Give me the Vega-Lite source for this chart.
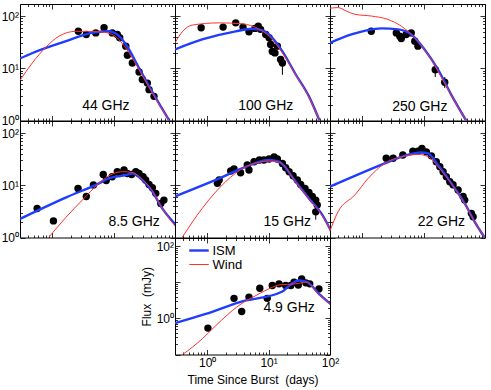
{
"$schema": "https://vega.github.io/schema/vega-lite/v6.json",
"padding": {"left": 0, "top": 3, "right": 5, "bottom": 2},
"background": "white",
"columns": 3,
"spacing": 0,
"bounds": "flush",
"align": "all",
"datasets": {
"pts": [
{"p":"44","t":2.67,"f":51},{"p":"44","t":3.6,"f":44.4},{"p":"44","t":5.13,"f":47.6},{"p":"44","t":7.0,"f":59.6},{"p":"44","t":9.53,"f":47.6},{"p":"44","t":11.5,"f":44.4},{"p":"44","t":12.6,"f":38.3},{"p":"44","t":15.8,"f":26.5},{"p":"44","t":16.8,"f":17.8},{"p":"44","t":20.2,"f":12.6},{"p":"44","t":26,"f":8.5},{"p":"44","t":29.4,"f":6.1},{"p":"44","t":35.5,"f":5.2},{"p":"44","t":37.8,"f":3.9},{"p":"44","t":45.5,"f":2.9},
{"p":"100","t":0.8,"f":59.6},{"p":"100","t":1.82,"f":61.4},{"p":"100","t":2.92,"f":74},{"p":"100","t":3.84,"f":61.4},{"p":"100","t":4.8,"f":50},{"p":"100","t":6.0,"f":58},{"p":"100","t":6.8,"f":64},{"p":"100","t":7.4,"f":55.6},{"p":"100","t":9.0,"f":44.4},{"p":"100","t":10.2,"f":38.3},{"p":"100","t":10.8,"f":28.5},{"p":"100","t":11.5,"f":21},{"p":"100","t":12.7,"f":19.7},{"p":"100","t":13.9,"f":26.5},{"p":"100","t":15.7,"f":14.7},{"p":"100","t":16.8,"f":12.6,"lo":7.5,"hi":16},
{"p":"250","t":1.41,"f":51},{"p":"250","t":3.6,"f":47.6},{"p":"250","t":4.1,"f":41},{"p":"250","t":4.34,"f":37.2},{"p":"250","t":5.2,"f":44.4},{"p":"250","t":6.3,"f":47.6},{"p":"250","t":7.2,"f":33},{"p":"250","t":8.1,"f":26.5},{"p":"250","t":15.5,"f":9.4,"lo":6.8,"hi":12},{"p":"250","t":22.1,"f":5.4,"lo":4.2,"hi":6.8},
{"p":"8.5","t":0.57,"f":3.6},{"p":"8.5","t":1.05,"f":2.08},{"p":"8.5","t":2.64,"f":8.7},{"p":"8.5","t":3.6,"f":6.1},{"p":"8.5","t":4.7,"f":10.1},{"p":"8.5","t":6.8,"f":16.1},{"p":"8.5","t":7.6,"f":12.3},{"p":"8.5","t":9.5,"f":14.6},{"p":"8.5","t":11.5,"f":18.2},{"p":"8.5","t":12.6,"f":16.8},{"p":"8.5","t":14.8,"f":19.6},{"p":"8.5","t":16.8,"f":16.8},{"p":"8.5","t":19.7,"f":16.1},{"p":"8.5","t":23,"f":18.2},{"p":"8.5","t":26,"f":16.8},{"p":"8.5","t":30.2,"f":14.6},{"p":"8.5","t":33.3,"f":12.6},{"p":"8.5","t":37.8,"f":10.4},{"p":"8.5","t":42.8,"f":9.0},{"p":"8.5","t":48.6,"f":7.0},{"p":"8.5","t":58.7,"f":4.5},{"p":"8.5","t":66,"f":5.2},
{"p":"15","t":1.47,"f":10.9},{"p":"15","t":1.57,"f":12.6},{"p":"15","t":2.42,"f":18.7},{"p":"15","t":2.74,"f":20.5},{"p":"15","t":3.5,"f":17.4},{"p":"15","t":4.8,"f":19.6},{"p":"15","t":4.5,"f":24.4},{"p":"15","t":5.8,"f":28.2},{"p":"15","t":7.1,"f":30.5},{"p":"15","t":8.4,"f":30.5},{"p":"15","t":10.2,"f":31.8},{"p":"15","t":12.3,"f":35},{"p":"15","t":13.9,"f":31.8},{"p":"15","t":16.8,"f":26.2},{"p":"15","t":19,"f":21.7},{"p":"15","t":21.6,"f":18.2},{"p":"15","t":25.1,"f":15.2},{"p":"15","t":29.4,"f":12.6},{"p":"15","t":33.3,"f":10.4},{"p":"15","t":39.2,"f":8.7},{"p":"15","t":45.4,"f":7.3},{"p":"15","t":51.5,"f":6.1},{"p":"15","t":58.6,"f":5.2},{"p":"15","t":62,"f":4.2},{"p":"15","t":58.6,"f":3.1,"lo":2.2,"hi":4.0},
{"p":"22","t":2.47,"f":32.8},{"p":"22","t":3.2,"f":32.8},{"p":"22","t":4.6,"f":37.9},{"p":"22","t":6.7,"f":45},{"p":"22","t":8.1,"f":45},{"p":"22","t":9.4,"f":50.6},{"p":"22","t":11.1,"f":43.6},{"p":"22","t":13.4,"f":36.6},{"p":"22","t":16.1,"f":28.2},{"p":"22","t":18.4,"f":22.6},{"p":"22","t":20.8,"f":18.2},{"p":"22","t":23.5,"f":14.6},{"p":"22","t":26.7,"f":11.7},{"p":"22","t":30.2,"f":10.2},{"p":"22","t":36.5,"f":8.1},{"p":"22","t":44,"f":6.1},{"p":"22","t":46.8,"f":5.2},{"p":"22","t":60,"f":2.9},{"p":"22","t":64,"f":2.5},
{"p":"4.9","t":1.03,"f":0.54},{"p":"4.9","t":2.74,"f":3.6},{"p":"4.9","t":3.65,"f":1.55},{"p":"4.9","t":4.8,"f":3.9},{"p":"4.9","t":7.2,"f":6.9},{"p":"4.9","t":9.5,"f":3.6},{"p":"4.9","t":11.5,"f":8.2},{"p":"4.9","t":14.8,"f":9.1},{"p":"4.9","t":19,"f":8.2},{"p":"4.9","t":23,"f":8.2},{"p":"4.9","t":26,"f":10.1},{"p":"4.9","t":30.5,"f":8.5},{"p":"4.9","t":34.6,"f":12.5},{"p":"4.9","t":40.4,"f":9.7},{"p":"4.9","t":46.8,"f":9.1},{"p":"4.9","t":66,"f":6.6}
],
"curves": [
{"p":"44","m":"ISM","t":0.3,"f":15.4},{"p":"44","m":"ISM","t":0.47,"f":19.4},{"p":"44","m":"ISM","t":1.68,"f":33},{"p":"44","m":"ISM","t":4.4,"f":47.6},{"p":"44","m":"ISM","t":8.4,"f":51},{"p":"44","m":"ISM","t":11.5,"f":44},{"p":"44","m":"ISM","t":15.9,"f":28.6},{"p":"44","m":"ISM","t":26,"f":10.1},{"p":"44","m":"ISM","t":48.6,"f":2.7},{"p":"44","m":"ISM","t":85,"f":0.9},
{"p":"44","m":"Wind","t":0.3,"f":5.9},{"p":"44","m":"Wind","t":0.475,"f":12.6},{"p":"44","m":"Wind","t":0.79,"f":25.3},{"p":"44","m":"Wind","t":1.29,"f":41},{"p":"44","m":"Wind","t":2.42,"f":51},{"p":"44","m":"Wind","t":5.8,"f":50},{"p":"44","m":"Wind","t":9.5,"f":44.4},{"p":"44","m":"Wind","t":15.8,"f":24.5},{"p":"44","m":"Wind","t":26,"f":9.4},{"p":"44","m":"Wind","t":48.6,"f":2.6},{"p":"44","m":"Wind","t":85,"f":0.9},
{"p":"100","m":"ISM","t":0.3,"f":22.9},{"p":"100","m":"ISM","t":0.83,"f":35.6},{"p":"100","m":"ISM","t":2.92,"f":51},{"p":"100","m":"ISM","t":5.4,"f":57},{"p":"100","m":"ISM","t":8.0,"f":53},{"p":"100","m":"ISM","t":11.5,"f":38.3},{"p":"100","m":"ISM","t":16.8,"f":21},{"p":"100","m":"ISM","t":27.7,"f":7.6},{"p":"100","m":"ISM","t":45.4,"f":2.9},{"p":"100","m":"ISM","t":70,"f":0.9},
{"p":"100","m":"Wind","t":0.3,"f":30.6},{"p":"100","m":"Wind","t":0.4,"f":51},{"p":"100","m":"Wind","t":0.57,"f":67},{"p":"100","m":"Wind","t":1.57,"f":74},{"p":"100","m":"Wind","t":3.7,"f":71},{"p":"100","m":"Wind","t":7.1,"f":55.6},{"p":"100","m":"Wind","t":10.2,"f":41},{"p":"100","m":"Wind","t":16.8,"f":19.7},{"p":"100","m":"Wind","t":27.7,"f":7.4},{"p":"100","m":"Wind","t":45.4,"f":2.8},{"p":"100","m":"Wind","t":70,"f":0.9},
{"p":"250","m":"ISM","t":0.3,"f":30.6},{"p":"250","m":"ISM","t":0.67,"f":44.4},{"p":"250","m":"ISM","t":2.06,"f":58},{"p":"250","m":"ISM","t":3.84,"f":55.6},{"p":"250","m":"ISM","t":6.3,"f":44.4},{"p":"250","m":"ISM","t":10.4,"f":22.9},{"p":"250","m":"ISM","t":17.2,"f":9.4},{"p":"250","m":"ISM","t":28.3,"f":3.1},{"p":"250","m":"ISM","t":52,"f":0.9},
{"p":"250","m":"Wind","t":0.3,"f":141},{"p":"250","m":"Wind","t":0.405,"f":145},{"p":"250","m":"Wind","t":0.55,"f":125},{"p":"250","m":"Wind","t":0.76,"f":108},{"p":"250","m":"Wind","t":1.41,"f":100},{"p":"250","m":"Wind","t":2.64,"f":86},{"p":"250","m":"Wind","t":4.34,"f":64},{"p":"250","m":"Wind","t":7.2,"f":38.3},{"p":"250","m":"Wind","t":11.8,"f":18.3},{"p":"250","m":"Wind","t":17.2,"f":8.8},{"p":"250","m":"Wind","t":28.3,"f":3.0},{"p":"250","m":"Wind","t":52,"f":0.9},
{"p":"8.5","m":"ISM","t":0.3,"f":2.27},{"p":"8.5","m":"ISM","t":1.66,"f":5.8},{"p":"8.5","m":"ISM","t":5.8,"f":10.9},{"p":"8.5","m":"ISM","t":8.4,"f":13.5},{"p":"8.5","m":"ISM","t":15.8,"f":15.7},{"p":"8.5","m":"ISM","t":20.2,"f":16.8},{"p":"8.5","m":"ISM","t":29.4,"f":12.6},{"p":"8.5","m":"ISM","t":42.8,"f":7.6},{"p":"8.5","m":"ISM","t":62,"f":3.6},{"p":"8.5","m":"ISM","t":103,"f":1.75},
{"p":"8.5","m":"Wind","t":0.75,"f":0.8},{"p":"8.5","m":"Wind","t":1.66,"f":2.4},{"p":"8.5","m":"Wind","t":3.1,"f":5.2},{"p":"8.5","m":"Wind","t":5.8,"f":10.9},{"p":"8.5","m":"Wind","t":8.4,"f":15.2},{"p":"8.5","m":"Wind","t":13.9,"f":18.2},{"p":"8.5","m":"Wind","t":20.2,"f":17.6},{"p":"8.5","m":"Wind","t":29.4,"f":12.9},{"p":"8.5","m":"Wind","t":42.8,"f":7.8},{"p":"8.5","m":"Wind","t":62,"f":3.6},{"p":"8.5","m":"Wind","t":103,"f":1.6},
{"p":"15","m":"ISM","t":0.3,"f":6.1},{"p":"15","m":"ISM","t":1.57,"f":13.5},{"p":"15","m":"ISM","t":4.24,"f":22.6},{"p":"15","m":"ISM","t":10.2,"f":30.5},{"p":"15","m":"ISM","t":14.8,"f":28.2},{"p":"15","m":"ISM","t":27.7,"f":11.7},{"p":"15","m":"ISM","t":45.4,"f":5.6},{"p":"15","m":"ISM","t":75,"f":2.7},{"p":"15","m":"ISM","t":105,"f":1.3},
{"p":"15","m":"Wind","t":0.38,"f":0.95},{"p":"15","m":"Wind","t":0.83,"f":3.6},{"p":"15","m":"Wind","t":2.0,"f":11.7},{"p":"15","m":"Wind","t":4.24,"f":22.6},{"p":"15","m":"Wind","t":10.2,"f":29},{"p":"15","m":"Wind","t":14.8,"f":28},{"p":"15","m":"Wind","t":27.7,"f":11.5},{"p":"15","m":"Wind","t":45.4,"f":5.5},{"p":"15","m":"Wind","t":75,"f":2.6},{"p":"15","m":"Wind","t":105,"f":1.3},
{"p":"22","m":"ISM","t":0.3,"f":9.4},{"p":"22","m":"ISM","t":2.33,"f":26.2},{"p":"22","m":"ISM","t":4.34,"f":35},{"p":"22","m":"ISM","t":9.2,"f":42.4},{"p":"22","m":"ISM","t":11.8,"f":40.7},{"p":"22","m":"ISM","t":17.2,"f":24.4},{"p":"22","m":"ISM","t":28.3,"f":10.9},{"p":"22","m":"ISM","t":46.8,"f":4.5},{"p":"22","m":"ISM","t":68,"f":2.0},{"p":"22","m":"ISM","t":100,"f":0.98},
{"p":"22","m":"Wind","t":0.3,"f":1.34},{"p":"22","m":"Wind","t":0.405,"f":3.1},{"p":"22","m":"Wind","t":0.76,"f":6.5},{"p":"22","m":"Wind","t":1.25,"f":13.5},{"p":"22","m":"Wind","t":2.33,"f":26.2},{"p":"22","m":"Wind","t":4.34,"f":35},{"p":"22","m":"Wind","t":8.1,"f":39},{"p":"22","m":"Wind","t":11.8,"f":35.5},{"p":"22","m":"Wind","t":17.2,"f":22.6},{"p":"22","m":"Wind","t":28.3,"f":10.8},{"p":"22","m":"Wind","t":46.8,"f":4.4},{"p":"22","m":"Wind","t":68,"f":2.0},{"p":"22","m":"Wind","t":100,"f":0.98},
{"p":"4.9","m":"ISM","t":0.3,"f":0.74},{"p":"4.9","m":"ISM","t":0.95,"f":1.33},{"p":"4.9","m":"ISM","t":3.3,"f":2.8},{"p":"4.9","m":"ISM","t":16.8,"f":5.6},{"p":"4.9","m":"ISM","t":20.2,"f":7.3},{"p":"4.9","m":"ISM","t":31.4,"f":11.3},{"p":"4.9","m":"ISM","t":42.8,"f":10.1},{"p":"4.9","m":"ISM","t":66,"f":4.8},{"p":"4.9","m":"ISM","t":103,"f":2.5},
{"p":"4.9","m":"Wind","t":0.4,"f":0.1},{"p":"4.9","m":"Wind","t":0.83,"f":0.27},{"p":"4.9","m":"Wind","t":1.38,"f":0.63},{"p":"4.9","m":"Wind","t":3.3,"f":2.3},{"p":"4.9","m":"Wind","t":6.2,"f":4.3},{"p":"4.9","m":"Wind","t":11.5,"f":7.3},{"p":"4.9","m":"Wind","t":14.8,"f":8.5},{"p":"4.9","m":"Wind","t":27.7,"f":9.1},{"p":"4.9","m":"Wind","t":40.4,"f":10.1},{"p":"4.9","m":"Wind","t":66,"f":4.6},{"p":"4.9","m":"Wind","t":103,"f":2.5}
],
"labs": [
{"p":"44","t":7.5,"f":1.86,"txt":"44 GHz"},{"p":"100","t":9.0,"f":1.86,"txt":"100 GHz"},{"p":"250","t":8.7,"f":1.78,"txt":"250 GHz"},
{"p":"8.5","t":21.6,"f":2.0,"txt":"8.5 GHz"},{"p":"15","t":20.2,"f":2.0,"txt":"15 GHz"},{"p":"22","t":19.5,"f":2.0,"txt":"22 GHz"},{"p":"4.9","t":21.6,"f":1.9,"txt":"4.9 GHz"}
]
},
"concat": [
{"width":155,"height":116.5,"layer":[
 {"data":{"name":"pts"},"transform":[{"filter":"datum.p=='44' && isValid(datum.lo)"}],"mark":{"type":"rule","color":"black","clip":true},"encoding":{"x":{"field":"t","type":"quantitative","scale":{"type":"log","domain":[0.3,100],"nice":false},"axis":null},"y":{"field":"lo","type":"quantitative","scale":{"type":"log","domain":[1,170],"nice":false},"axis":null},"y2":{"field":"hi"}}},
 {"data":{"name":"pts"},"transform":[{"filter":"datum.p=='44'"}],"mark":{"type":"circle","size":55,"color":"black","opacity":1,"clip":true},"encoding":{"x":{"field":"t","type":"quantitative","scale":{"type":"log","domain":[0.3,100],"nice":false},"axis":{"orient":"bottom","values":[0.3,0.4,0.5,0.6,0.7,0.8,0.9,1,2,3,4,5,6,7,8,9,10,20,30,40,50,60,70,80,90,100],"labels":false,"title":null,"tickSize":{"condition":{"test":"indexof([0.1,1,10,100], datum.value) >= 0","value":-5},"value":-2.5}}},"y":{"field":"f","type":"quantitative","scale":{"type":"log","domain":[1,170],"nice":false},"axis":{"orient":"left","values":[1,2,3,4,5,6,7,8,9,10,20,30,40,50,60,70,80,90,100],"labelExpr":"datum.value == 1 ? '10⁰' : datum.value == 10 ? '10¹' : datum.value == 100 ? '10²' : ''","title":null,"tickSize":{"condition":{"test":"indexof([0.1,1,10,100], datum.value) >= 0","value":-5},"value":-2.5}}}}},
 {"data":{"name":"curves"},"transform":[{"filter":"datum.p=='44'"}],"mark":{"type":"line","clip":true,"interpolate":"monotone"},"encoding":{"x":{"field":"t","type":"quantitative","scale":{"type":"log","domain":[0.3,100],"nice":false},"axis":{"orient":"top","values":[0.3,0.4,0.5,0.6,0.7,0.8,0.9,1,2,3,4,5,6,7,8,9,10,20,30,40,50,60,70,80,90,100],"labels":false,"title":null,"tickSize":{"condition":{"test":"indexof([0.1,1,10,100], datum.value) >= 0","value":-5},"value":-2.5}}},"y":{"field":"f","type":"quantitative","scale":{"type":"log","domain":[1,170],"nice":false},"axis":{"orient":"right","values":[1,2,3,4,5,6,7,8,9,10,20,30,40,50,60,70,80,90,100],"labels":false,"title":null,"tickSize":{"condition":{"test":"indexof([0.1,1,10,100], datum.value) >= 0","value":-5},"value":-2.5}}},"color":{"field":"m","type":"nominal","title":null,"scale":{"domain":["ISM","Wind"],"range":["#1f3cff","#ff3030"]}},"strokeWidth":{"field":"m","type":"nominal","title":null,"scale":{"domain":["ISM","Wind"],"range":[2.4,1]}}}},
 {"data":{"name":"labs"},"transform":[{"filter":"datum.p=='44'"}],"mark":{"type":"text","fontSize":14,"font":"Liberation Sans","color":"black"},"encoding":{"x":{"field":"t","type":"quantitative","scale":{"type":"log","domain":[0.3,100],"nice":false},"axis":null},"y":{"field":"f","type":"quantitative","scale":{"type":"log","domain":[1,170],"nice":false},"axis":null},"text":{"field":"txt"}}}
],"resolve":{"axis":{"x":"independent","y":"independent"}}},

{"width":155,"height":116.5,"layer":[
 {"data":{"name":"pts"},"transform":[{"filter":"datum.p=='100' && isValid(datum.lo)"}],"mark":{"type":"rule","color":"black","clip":true},"encoding":{"x":{"field":"t","type":"quantitative","scale":{"type":"log","domain":[0.3,100],"nice":false},"axis":null},"y":{"field":"lo","type":"quantitative","scale":{"type":"log","domain":[1,170],"nice":false},"axis":null},"y2":{"field":"hi"}}},
 {"data":{"name":"pts"},"transform":[{"filter":"datum.p=='100'"}],"mark":{"type":"circle","size":55,"color":"black","opacity":1,"clip":true},"encoding":{"x":{"field":"t","type":"quantitative","scale":{"type":"log","domain":[0.3,100],"nice":false},"axis":{"orient":"bottom","values":[0.3,0.4,0.5,0.6,0.7,0.8,0.9,1,2,3,4,5,6,7,8,9,10,20,30,40,50,60,70,80,90,100],"labels":false,"title":null,"tickSize":{"condition":{"test":"indexof([0.1,1,10,100], datum.value) >= 0","value":-5},"value":-2.5}}},"y":{"field":"f","type":"quantitative","scale":{"type":"log","domain":[1,170],"nice":false},"axis":{"orient":"left","values":[1,2,3,4,5,6,7,8,9,10,20,30,40,50,60,70,80,90,100],"labels":false,"title":null,"tickSize":{"condition":{"test":"indexof([0.1,1,10,100], datum.value) >= 0","value":-5},"value":-2.5}}}}},
 {"data":{"name":"curves"},"transform":[{"filter":"datum.p=='100'"}],"mark":{"type":"line","clip":true,"interpolate":"monotone"},"encoding":{"x":{"field":"t","type":"quantitative","scale":{"type":"log","domain":[0.3,100],"nice":false},"axis":{"orient":"top","values":[0.3,0.4,0.5,0.6,0.7,0.8,0.9,1,2,3,4,5,6,7,8,9,10,20,30,40,50,60,70,80,90,100],"labels":false,"title":null,"tickSize":{"condition":{"test":"indexof([0.1,1,10,100], datum.value) >= 0","value":-5},"value":-2.5}}},"y":{"field":"f","type":"quantitative","scale":{"type":"log","domain":[1,170],"nice":false},"axis":{"orient":"right","values":[1,2,3,4,5,6,7,8,9,10,20,30,40,50,60,70,80,90,100],"labels":false,"title":null,"tickSize":{"condition":{"test":"indexof([0.1,1,10,100], datum.value) >= 0","value":-5},"value":-2.5}}},"color":{"field":"m","type":"nominal","title":null,"scale":{"domain":["ISM","Wind"],"range":["#1f3cff","#ff3030"]}},"strokeWidth":{"field":"m","type":"nominal","title":null,"scale":{"domain":["ISM","Wind"],"range":[2.4,1]}}}},
 {"data":{"name":"labs"},"transform":[{"filter":"datum.p=='100'"}],"mark":{"type":"text","fontSize":14,"font":"Liberation Sans","color":"black"},"encoding":{"x":{"field":"t","type":"quantitative","scale":{"type":"log","domain":[0.3,100],"nice":false},"axis":null},"y":{"field":"f","type":"quantitative","scale":{"type":"log","domain":[1,170],"nice":false},"axis":null},"text":{"field":"txt"}}}
],"resolve":{"axis":{"x":"independent","y":"independent"}}},

{"width":155,"height":116.5,"layer":[
 {"data":{"name":"pts"},"transform":[{"filter":"datum.p=='250' && isValid(datum.lo)"}],"mark":{"type":"rule","color":"black","clip":true},"encoding":{"x":{"field":"t","type":"quantitative","scale":{"type":"log","domain":[0.3,100],"nice":false},"axis":null},"y":{"field":"lo","type":"quantitative","scale":{"type":"log","domain":[1,170],"nice":false},"axis":null},"y2":{"field":"hi"}}},
 {"data":{"name":"pts"},"transform":[{"filter":"datum.p=='250'"}],"mark":{"type":"circle","size":55,"color":"black","opacity":1,"clip":true},"encoding":{"x":{"field":"t","type":"quantitative","scale":{"type":"log","domain":[0.3,100],"nice":false},"axis":{"orient":"bottom","values":[0.3,0.4,0.5,0.6,0.7,0.8,0.9,1,2,3,4,5,6,7,8,9,10,20,30,40,50,60,70,80,90,100],"labels":false,"title":null,"tickSize":{"condition":{"test":"indexof([0.1,1,10,100], datum.value) >= 0","value":-5},"value":-2.5}}},"y":{"field":"f","type":"quantitative","scale":{"type":"log","domain":[1,170],"nice":false},"axis":{"orient":"left","values":[1,2,3,4,5,6,7,8,9,10,20,30,40,50,60,70,80,90,100],"labels":false,"title":null,"tickSize":{"condition":{"test":"indexof([0.1,1,10,100], datum.value) >= 0","value":-5},"value":-2.5}}}}},
 {"data":{"name":"curves"},"transform":[{"filter":"datum.p=='250'"}],"mark":{"type":"line","clip":true,"interpolate":"monotone"},"encoding":{"x":{"field":"t","type":"quantitative","scale":{"type":"log","domain":[0.3,100],"nice":false},"axis":{"orient":"top","values":[0.3,0.4,0.5,0.6,0.7,0.8,0.9,1,2,3,4,5,6,7,8,9,10,20,30,40,50,60,70,80,90,100],"labels":false,"title":null,"tickSize":{"condition":{"test":"indexof([0.1,1,10,100], datum.value) >= 0","value":-5},"value":-2.5}}},"y":{"field":"f","type":"quantitative","scale":{"type":"log","domain":[1,170],"nice":false},"axis":{"orient":"right","values":[1,2,3,4,5,6,7,8,9,10,20,30,40,50,60,70,80,90,100],"labels":false,"title":null,"tickSize":{"condition":{"test":"indexof([0.1,1,10,100], datum.value) >= 0","value":-5},"value":-2.5}}},"color":{"field":"m","type":"nominal","title":null,"scale":{"domain":["ISM","Wind"],"range":["#1f3cff","#ff3030"]}},"strokeWidth":{"field":"m","type":"nominal","title":null,"scale":{"domain":["ISM","Wind"],"range":[2.4,1]}}}},
 {"data":{"name":"labs"},"transform":[{"filter":"datum.p=='250'"}],"mark":{"type":"text","fontSize":14,"font":"Liberation Sans","color":"black"},"encoding":{"x":{"field":"t","type":"quantitative","scale":{"type":"log","domain":[0.3,100],"nice":false},"axis":null},"y":{"field":"f","type":"quantitative","scale":{"type":"log","domain":[1,170],"nice":false},"axis":null},"text":{"field":"txt"}}}
],"resolve":{"axis":{"x":"independent","y":"independent"}}},

{"width":155,"height":116.5,"layer":[
 {"data":{"name":"pts"},"transform":[{"filter":"datum.p=='8.5'"}],"mark":{"type":"circle","size":55,"color":"black","opacity":1,"clip":true},"encoding":{"x":{"field":"t","type":"quantitative","scale":{"type":"log","domain":[0.3,100],"nice":false},"axis":{"orient":"bottom","values":[0.3,0.4,0.5,0.6,0.7,0.8,0.9,1,2,3,4,5,6,7,8,9,10,20,30,40,50,60,70,80,90,100],"labels":false,"title":null,"tickSize":{"condition":{"test":"indexof([0.1,1,10,100], datum.value) >= 0","value":-5},"value":-2.5}}},"y":{"field":"f","type":"quantitative","scale":{"type":"log","domain":[1,170],"nice":false},"axis":{"orient":"left","values":[1,2,3,4,5,6,7,8,9,10,20,30,40,50,60,70,80,90,100],"labelExpr":"datum.value == 1 ? '10⁰' : datum.value == 10 ? '10¹' : datum.value == 100 ? '10²' : ''","title":null,"tickSize":{"condition":{"test":"indexof([0.1,1,10,100], datum.value) >= 0","value":-5},"value":-2.5}}}}},
 {"data":{"name":"curves"},"transform":[{"filter":"datum.p=='8.5'"}],"mark":{"type":"line","clip":true,"interpolate":"monotone"},"encoding":{"x":{"field":"t","type":"quantitative","scale":{"type":"log","domain":[0.3,100],"nice":false},"axis":{"orient":"top","values":[0.3,0.4,0.5,0.6,0.7,0.8,0.9,1,2,3,4,5,6,7,8,9,10,20,30,40,50,60,70,80,90,100],"labels":false,"title":null,"tickSize":{"condition":{"test":"indexof([0.1,1,10,100], datum.value) >= 0","value":-5},"value":-2.5}}},"y":{"field":"f","type":"quantitative","scale":{"type":"log","domain":[1,170],"nice":false},"axis":{"orient":"right","values":[1,2,3,4,5,6,7,8,9,10,20,30,40,50,60,70,80,90,100],"labels":false,"title":null,"tickSize":{"condition":{"test":"indexof([0.1,1,10,100], datum.value) >= 0","value":-5},"value":-2.5}}},"color":{"field":"m","type":"nominal","title":null,"scale":{"domain":["ISM","Wind"],"range":["#1f3cff","#ff3030"]}},"strokeWidth":{"field":"m","type":"nominal","title":null,"scale":{"domain":["ISM","Wind"],"range":[2.4,1]}}}},
 {"data":{"name":"labs"},"transform":[{"filter":"datum.p=='8.5'"}],"mark":{"type":"text","fontSize":14,"font":"Liberation Sans","color":"black"},"encoding":{"x":{"field":"t","type":"quantitative","scale":{"type":"log","domain":[0.3,100],"nice":false},"axis":null},"y":{"field":"f","type":"quantitative","scale":{"type":"log","domain":[1,170],"nice":false},"axis":null},"text":{"field":"txt"}}}
],"resolve":{"axis":{"x":"independent","y":"independent"}}},

{"width":155,"height":116.5,"layer":[
 {"data":{"name":"pts"},"transform":[{"filter":"datum.p=='15' && isValid(datum.lo)"}],"mark":{"type":"rule","color":"black","clip":true},"encoding":{"x":{"field":"t","type":"quantitative","scale":{"type":"log","domain":[0.3,100],"nice":false},"axis":null},"y":{"field":"lo","type":"quantitative","scale":{"type":"log","domain":[1,170],"nice":false},"axis":null},"y2":{"field":"hi"}}},
 {"data":{"name":"pts"},"transform":[{"filter":"datum.p=='15'"}],"mark":{"type":"circle","size":55,"color":"black","opacity":1,"clip":true},"encoding":{"x":{"field":"t","type":"quantitative","scale":{"type":"log","domain":[0.3,100],"nice":false},"axis":{"orient":"bottom","values":[0.3,0.4,0.5,0.6,0.7,0.8,0.9,1,2,3,4,5,6,7,8,9,10,20,30,40,50,60,70,80,90,100],"labels":false,"title":null,"tickSize":{"condition":{"test":"indexof([0.1,1,10,100], datum.value) >= 0","value":-5},"value":-2.5}}},"y":{"field":"f","type":"quantitative","scale":{"type":"log","domain":[1,170],"nice":false},"axis":{"orient":"left","values":[1,2,3,4,5,6,7,8,9,10,20,30,40,50,60,70,80,90,100],"labels":false,"title":null,"tickSize":{"condition":{"test":"indexof([0.1,1,10,100], datum.value) >= 0","value":-5},"value":-2.5}}}}},
 {"data":{"name":"curves"},"transform":[{"filter":"datum.p=='15'"}],"mark":{"type":"line","clip":true,"interpolate":"monotone"},"encoding":{"x":{"field":"t","type":"quantitative","scale":{"type":"log","domain":[0.3,100],"nice":false},"axis":{"orient":"top","values":[0.3,0.4,0.5,0.6,0.7,0.8,0.9,1,2,3,4,5,6,7,8,9,10,20,30,40,50,60,70,80,90,100],"labels":false,"title":null,"tickSize":{"condition":{"test":"indexof([0.1,1,10,100], datum.value) >= 0","value":-5},"value":-2.5}}},"y":{"field":"f","type":"quantitative","scale":{"type":"log","domain":[1,170],"nice":false},"axis":{"orient":"right","values":[1,2,3,4,5,6,7,8,9,10,20,30,40,50,60,70,80,90,100],"labels":false,"title":null,"tickSize":{"condition":{"test":"indexof([0.1,1,10,100], datum.value) >= 0","value":-5},"value":-2.5}}},"color":{"field":"m","type":"nominal","title":null,"scale":{"domain":["ISM","Wind"],"range":["#1f3cff","#ff3030"]}},"strokeWidth":{"field":"m","type":"nominal","title":null,"scale":{"domain":["ISM","Wind"],"range":[2.4,1]}}}},
 {"data":{"name":"labs"},"transform":[{"filter":"datum.p=='15'"}],"mark":{"type":"text","fontSize":14,"font":"Liberation Sans","color":"black"},"encoding":{"x":{"field":"t","type":"quantitative","scale":{"type":"log","domain":[0.3,100],"nice":false},"axis":null},"y":{"field":"f","type":"quantitative","scale":{"type":"log","domain":[1,170],"nice":false},"axis":null},"text":{"field":"txt"}}}
],"resolve":{"axis":{"x":"independent","y":"independent"}}},

{"width":155,"height":116.5,"layer":[
 {"data":{"name":"pts"},"transform":[{"filter":"datum.p=='22'"}],"mark":{"type":"circle","size":55,"color":"black","opacity":1,"clip":true},"encoding":{"x":{"field":"t","type":"quantitative","scale":{"type":"log","domain":[0.3,100],"nice":false},"axis":{"orient":"bottom","values":[0.3,0.4,0.5,0.6,0.7,0.8,0.9,1,2,3,4,5,6,7,8,9,10,20,30,40,50,60,70,80,90,100],"labels":false,"title":null,"tickSize":{"condition":{"test":"indexof([0.1,1,10,100], datum.value) >= 0","value":-5},"value":-2.5}}},"y":{"field":"f","type":"quantitative","scale":{"type":"log","domain":[1,170],"nice":false},"axis":{"orient":"left","values":[1,2,3,4,5,6,7,8,9,10,20,30,40,50,60,70,80,90,100],"labels":false,"title":null,"tickSize":{"condition":{"test":"indexof([0.1,1,10,100], datum.value) >= 0","value":-5},"value":-2.5}}}}},
 {"data":{"name":"curves"},"transform":[{"filter":"datum.p=='22'"}],"mark":{"type":"line","clip":true,"interpolate":"monotone"},"encoding":{"x":{"field":"t","type":"quantitative","scale":{"type":"log","domain":[0.3,100],"nice":false},"axis":{"orient":"top","values":[0.3,0.4,0.5,0.6,0.7,0.8,0.9,1,2,3,4,5,6,7,8,9,10,20,30,40,50,60,70,80,90,100],"labels":false,"title":null,"tickSize":{"condition":{"test":"indexof([0.1,1,10,100], datum.value) >= 0","value":-5},"value":-2.5}}},"y":{"field":"f","type":"quantitative","scale":{"type":"log","domain":[1,170],"nice":false},"axis":{"orient":"right","values":[1,2,3,4,5,6,7,8,9,10,20,30,40,50,60,70,80,90,100],"labels":false,"title":null,"tickSize":{"condition":{"test":"indexof([0.1,1,10,100], datum.value) >= 0","value":-5},"value":-2.5}}},"color":{"field":"m","type":"nominal","title":null,"scale":{"domain":["ISM","Wind"],"range":["#1f3cff","#ff3030"]}},"strokeWidth":{"field":"m","type":"nominal","title":null,"scale":{"domain":["ISM","Wind"],"range":[2.4,1]}}}},
 {"data":{"name":"labs"},"transform":[{"filter":"datum.p=='22'"}],"mark":{"type":"text","fontSize":14,"font":"Liberation Sans","color":"black"},"encoding":{"x":{"field":"t","type":"quantitative","scale":{"type":"log","domain":[0.3,100],"nice":false},"axis":null},"y":{"field":"f","type":"quantitative","scale":{"type":"log","domain":[1,170],"nice":false},"axis":null},"text":{"field":"txt"}}}
],"resolve":{"axis":{"x":"independent","y":"independent"}}},

{"width":155,"height":116.5,"data":{"values":[{"a":1}]},"mark":{"type":"point","opacity":0},"encoding":{},"view":{"stroke":null}},

{"width":155,"height":116.5,"layer":[
 {"data":{"name":"pts"},"transform":[{"filter":"datum.p=='4.9'"}],"mark":{"type":"circle","size":55,"color":"black","opacity":1,"clip":true},"encoding":{"x":{"field":"t","type":"quantitative","scale":{"type":"log","domain":[0.3,100],"nice":false},"axis":{"orient":"bottom","values":[0.3,0.4,0.5,0.6,0.7,0.8,0.9,1,2,3,4,5,6,7,8,9,10,20,30,40,50,60,70,80,90,100],"labelExpr":"datum.value == 1 ? '10⁰' : datum.value == 10 ? '10¹' : datum.value == 100 ? '10²' : ''","title":"Time Since Burst\u00a0 (days)","titlePadding":3,"tickSize":{"condition":{"test":"indexof([0.1,1,10,100], datum.value) >= 0","value":-5},"value":-2.5}}},"y":{"field":"f","type":"quantitative","scale":{"type":"log","domain":[0.1,170],"nice":false},"axis":{"orient":"left","values":[0.1,0.2,0.3,0.4,0.5,0.6,0.7,0.8,0.9,1,2,3,4,5,6,7,8,9,10,20,30,40,50,60,70,80,90,100],"labelExpr":"datum.value == 1 ? '10⁰' : datum.value == 100 ? '10²' : ''","title":"Flux\u00a0 (mJy)","titlePadding":3,"tickSize":{"condition":{"test":"indexof([0.1,1,10,100], datum.value) >= 0","value":-5},"value":-2.5}}}}},
 {"data":{"name":"curves"},"transform":[{"filter":"datum.p=='4.9'"}],"mark":{"type":"line","clip":true,"interpolate":"monotone"},"encoding":{"x":{"field":"t","type":"quantitative","scale":{"type":"log","domain":[0.3,100],"nice":false},"axis":{"orient":"top","values":[0.3,0.4,0.5,0.6,0.7,0.8,0.9,1,2,3,4,5,6,7,8,9,10,20,30,40,50,60,70,80,90,100],"labels":false,"title":null,"tickSize":{"condition":{"test":"indexof([0.1,1,10,100], datum.value) >= 0","value":-5},"value":-2.5}}},"y":{"field":"f","type":"quantitative","scale":{"type":"log","domain":[0.1,170],"nice":false},"axis":{"orient":"right","values":[0.1,0.2,0.3,0.4,0.5,0.6,0.7,0.8,0.9,1,2,3,4,5,6,7,8,9,10,20,30,40,50,60,70,80,90,100],"labels":false,"title":null,"tickSize":{"condition":{"test":"indexof([0.1,1,10,100], datum.value) >= 0","value":-5},"value":-2.5}}},"color":{"field":"m","type":"nominal","title":null,"scale":{"domain":["ISM","Wind"],"range":["#1f3cff","#ff3030"]}},"strokeWidth":{"field":"m","type":"nominal","title":null,"scale":{"domain":["ISM","Wind"],"range":[2.4,1]}}}},
 {"data":{"name":"labs"},"transform":[{"filter":"datum.p=='4.9'"}],"mark":{"type":"text","fontSize":14,"font":"Liberation Sans","color":"black"},"encoding":{"x":{"field":"t","type":"quantitative","scale":{"type":"log","domain":[0.3,100],"nice":false},"axis":null},"y":{"field":"f","type":"quantitative","scale":{"type":"log","domain":[0.1,170],"nice":false},"axis":null},"text":{"field":"txt"}}}
],"resolve":{"axis":{"x":"independent","y":"independent"}}},

{"width":155,"height":116.5,"data":{"values":[{"a":1}]},"mark":{"type":"point","opacity":0},"encoding":{},"view":{"stroke":null}}
],
"resolve": {"scale": {"color": "shared", "strokeWidth": "shared"}},
"config": {
 "view": {"stroke": "black", "strokeWidth": 1},
 "axis": {"domain": false, "grid": false, "tickColor": "black", "tickWidth": 0.8, "labelFont": "Liberation Sans", "labelFontSize": 12, "labelColor": "black", "labelOverlap": false, "labelFlush": false, "labelPadding": 8, "titleFont": "Liberation Sans", "titleFontSize": 12, "titleFontWeight": "normal", "titleColor": "black"},
 "axisY": {"labelPadding": 6.5},
 "legend": {"orient": "none", "legendX": 171, "legendY": 238.5, "symbolType": "M-1.5,0H1.5", "symbolSize": 169, "labelFontSize": 13, "labelFont": "Liberation Sans", "labelColor": "black", "rowPadding": -4, "labelOffset": 5.5}
}
}
